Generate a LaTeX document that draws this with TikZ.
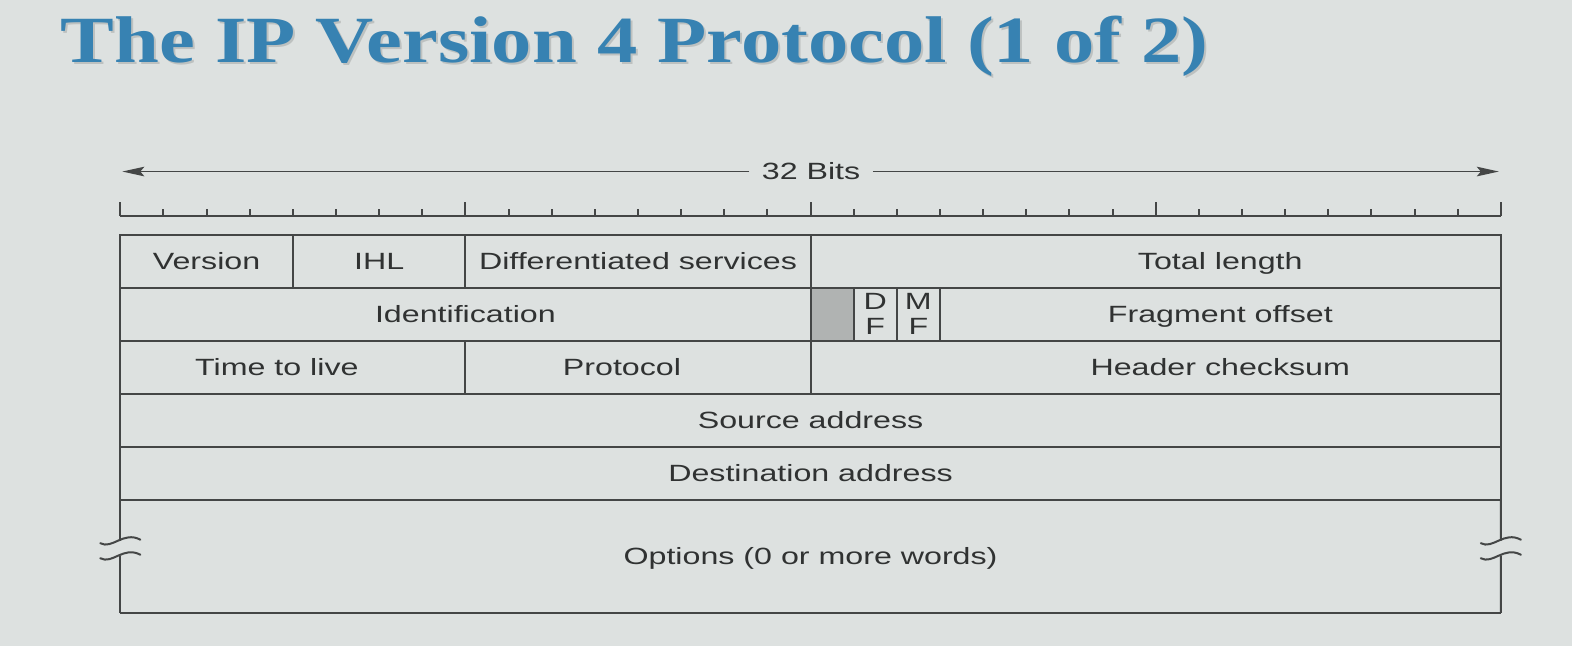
\documentclass[tikz,border=0pt]{standalone}
\usepackage{fontspec}
\setmainfont{Liberation Sans}
\newfontfamily\fieldfont{Liberation Sans}[FakeStretch=1.37]
\newfontfamily\titlefont{Liberation Serif}[FakeStretch=1.221]
\usetikzlibrary{arrows.meta,calc}

\definecolor{slidebg}{RGB}{221,225,224}
\definecolor{ink}{RGB}{68,70,70}
\definecolor{txt}{RGB}{48,50,50}
\definecolor{titleblue}{RGB}{55,130,178}
\definecolor{reserved}{RGB}{176,179,178}

% one bit of the header, and one header row, in pt
\def\bw{21.57pt}
\def\rh{26.48pt}

\begin{document}
\begin{tikzpicture}[x=0.50128pt,y=-0.50155pt,
  rule/.style={draw=ink, line width=1pt},
  fieldtext/.style={font=\fieldfont\fontsize{11.75}{12.5}\selectfont, text=txt, inner sep=0pt},
  oneline/.style={text height=8.4pt, text depth=0pt},
  cell/.style={rule, fieldtext, rectangle, inner sep=0pt, outer sep=0pt,
    anchor=north west, minimum height=\rh, align=center},
  dimarrow/.style={draw=ink, line width=0.8pt, -{Stealth[length=11pt,width=4.8pt,inset=2pt]}},
  wave/.style={draw=ink, line width=1pt, line cap=round},
  titletext/.style={font=\titlefont\bfseries\fontsize{33}{36}\selectfont, anchor=base west, inner sep=0pt}
]
\fill[slidebg] (0,0) rectangle (1568,644);
\useasboundingbox (0,0) rectangle (1568,644);

% slide title with its soft shadow
\node[titletext, text=black, opacity=0.14] (title-shadow) at (62,64) {The IP Version 4 Protocol (1 of 2)};
\node[titletext, text=titleblue] (title) at (60,62) {The IP Version 4 Protocol (1 of 2)};

% width arrow
\node[fieldtext, oneline, inner xsep=6.25pt, outer sep=0pt] (bits) at (809,171) {32 Bits};
\coordinate (arrL) at (122,171);
\coordinate (arrR) at (1495,171);
\draw[dimarrow] (bits) -- (arrL);
\draw[dimarrow] (bits) -- (arrR);

% bit ruler
\coordinate (rulerL) at (120,215);
\coordinate (rulerR) at (1497,215);
\draw[rule] (rulerL) -- (rulerR);
\foreach \i in {1,...,31} \draw[rule] ({120+43.03*\i},215) -- ++(0,-7);
\foreach \i in {0,8,16,24,32} \draw[rule] ({120+43.03*\i},215) -- ++(0,-14);

% row 1
\node[cell, oneline, minimum width=4*\bw] (version) at (120,234) {Version};
\node[cell, oneline, minimum width=4*\bw] (ihl) at (version.north east) {IHL};
\node[cell, oneline, minimum width=8*\bw] (dserv) at (ihl.north east) {Differentiated services};
\node[cell, minimum width=16*\bw] (totlen) at (dserv.north east) {};
\node[fieldtext, oneline, xshift=32.3pt] (totlen-text) at (totlen.center) {Total length};

% row 2
\node[cell, oneline, minimum width=16*\bw] (ident) at (version.south west) {Identification};
\node[cell, minimum width=\bw, fill=reserved] (unused) at (ident.north east) {};
\node[cell, minimum width=\bw] (df) at (unused.north east) {D\\F};
\node[cell, minimum width=\bw] (mf) at (df.north east) {M\\F};
\node[cell, oneline, minimum width=13*\bw] (fragoff) at (mf.north east) {Fragment offset};

% row 3
\node[cell, minimum width=8*\bw] (ttl) at (ident.south west) {};
\node[fieldtext, oneline, xshift=-8pt] (ttl-text) at (ttl.center) {Time to live};
\node[cell, minimum width=8*\bw] (proto) at (ttl.north east) {};
\node[fieldtext, oneline, xshift=-8pt] (proto-text) at (proto.center) {Protocol};
\node[cell, minimum width=16*\bw] (hcheck) at (proto.north east) {};
\node[fieldtext, oneline, xshift=32.3pt] (hcheck-text) at (hcheck.center) {Header checksum};

% rows 4 and 5
\node[cell, oneline, minimum width=32*\bw] (src) at (ttl.south west) {Source address};
\node[cell, oneline, minimum width=32*\bw] (dst) at (src.south west) {Destination address};

% options, open at both sides
\node[fieldtext, oneline, anchor=north west, minimum width=32*\bw, minimum height=56.7pt, outer sep=0pt] (options) at (dst.south west) {Options (0 or more words)};
\draw[rule] (options.south west) -- (options.south east);
\coordinate (brkLa) at (120,539);
\coordinate (brkLb) at (120,554);
\coordinate (brkRa) at (1497,539);
\coordinate (brkRb) at (1497,554);
\draw[rule] (options.north west) -- (brkLa);
\draw[rule] (brkLb) -- (options.south west);
\draw[rule] (options.north east) -- (brkRa);
\draw[rule] (brkRb) -- (options.south east);
\foreach \p in {brkLa,brkLb,brkRa,brkRb}
  \draw[wave] ($(\p)+(-20,2.5)$) .. controls ($(\p)+(-8,9)$) and ($(\p)+(3,-10)$) .. ($(\p)+(20,-1)$);
\end{tikzpicture}
\end{document}
